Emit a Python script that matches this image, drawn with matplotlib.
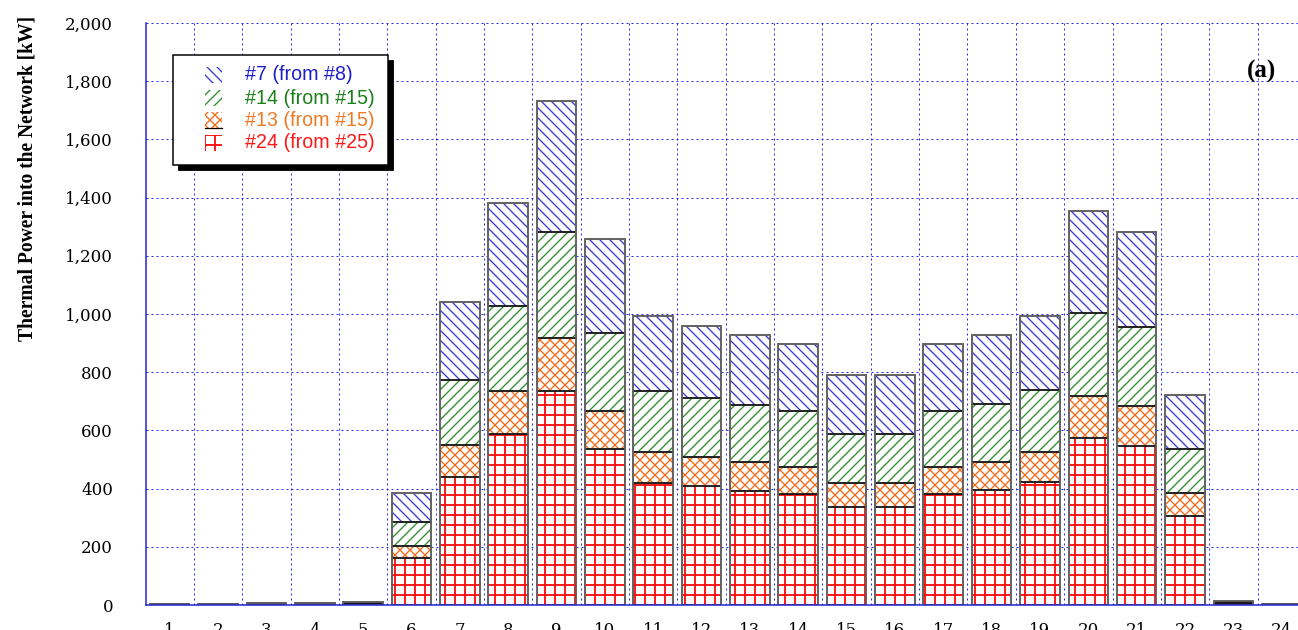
import matplotlib
matplotlib.use("Agg")
import matplotlib.pyplot as plt
from matplotlib.patches import Rectangle
import numpy as np

hours = list(range(1, 25))
red_24 = [1.3, 1.7, 3.0, 3.0, 4.2, 163, 440, 587, 734, 535, 420, 409, 393, 380, 336, 336, 380, 395, 422, 573, 545, 307, 6.0, 1.3]
orange_13 = [0.3, 0.4, 0.7, 0.7, 1.1, 41, 111, 148, 183, 133, 107, 101, 99, 95, 84, 84, 95, 97, 105, 144, 138, 77, 1.5, 0.3]
green_14 = [0.6, 0.9, 1.5, 1.5, 2.1, 80, 222, 292, 366, 266, 209, 200, 196, 192, 168, 168, 190, 198, 211, 286, 271, 152, 3.0, 0.6]
blue_7 = [0.8, 1.0, 1.8, 1.8, 2.6, 100, 267, 356, 450, 323, 258, 249, 239, 229, 203, 203, 231, 238, 255, 351, 329, 186, 3.5, 0.8]
series_labels = ["#7 (from #8)", "#14 (from #15)", "#13 (from #15)", "#24 (from #25)"]
y_ticks = [0, 200, 400, 600, 800, 1000, 1200, 1400, 1600, 1800, 2000]

DPI = 60
W, H = 1298, 630
plt.rcParams['hatch.linewidth'] = 1.7
fig = plt.figure(figsize=(W / DPI, H / DPI), dpi=DPI)
ax = fig.add_axes([145.5 / W, 25 / H, 1160.4 / W, 582 / H])

serif = ['DejaVu Serif']
serif_lab = ['Liberation Serif', 'DejaVu Serif']
sans = ['Liberation Sans', 'DejaVu Sans']

hatch_cols = {'red': '#ff0a0a', 'orange': '#f06a18', 'green': '#2f8f2f', 'blue': '#3a3ad2'}
stack = [(red_24, '+', hatch_cols['red'], 2.2),
         (orange_13, 'xx', hatch_cols['orange'], 1.6),
         (green_14, '//', hatch_cols['green'], 1.6),
         (blue_7, '\\\\', hatch_cols['blue'], 1.6)]

x = np.array(hours)
bw = 0.82
bottom = np.zeros(len(hours))
for vals, hatch, col, hlw in stack:
    v = np.array(vals, dtype=float)
    bars = ax.bar(x, v, bw, bottom=bottom, color='white', edgecolor=col, hatch=hatch,
                  linewidth=0, zorder=2)
    for b in bars:
        if hasattr(b, 'set_hatch_linewidth'):
            b.set_hatch_linewidth(hlw)
    ax.bar(x, v, bw, bottom=bottom, fill=False, edgecolor='#1a1a1a', linewidth=1.8, zorder=3)
    bottom += v
# outer gray outline of each stacked bar
ax.bar(x, bottom, bw, fill=False, edgecolor='#6a6a6a', linewidth=2.0, zorder=3.5)

ax.set_xlim(0.5, 24.5)
ax.set_ylim(0, 2000)
ax.set_yticks(y_ticks)
ax.set_yticklabels([f"{t:,}" for t in y_ticks], fontfamily=serif, fontsize=20)
ax.set_xticks(x)
ax.set_xticklabels([str(h) for h in hours], fontfamily=serif, fontsize=20)
ax.set_xticks(np.arange(1.5, 24.5, 1), minor=True)
ax.tick_params(axis='y', length=0, pad=39)
ax.tick_params(axis='x', which='major', length=0, pad=20)
ax.tick_params(axis='x', which='minor', length=0)

grid_kw = dict(color='#2a2aee', linestyle=(0, (2, 3)), linewidth=1.2)
ax.grid(False)
ax.yaxis.grid(True, which='major', **grid_kw)
ax.xaxis.grid(True, which='minor', **grid_kw)
ax.set_axisbelow(True)
for s in ['top', 'right']:
    ax.spines[s].set_visible(False)
for s in ['left', 'bottom']:
    ax.spines[s].set_color('#2020cc')
    ax.spines[s].set_linewidth(1.8)
    ax.spines[s].set_zorder(4)

fig.text(28 / W, 1 - 178 / H, "Thermal Power into the Network [kW]", rotation=90,
         ha='center', va='center', fontfamily=serif_lab, fontweight='bold', fontsize=23.5)
fig.text(1261 / W, 1 - 71 / H, "(a)", ha='center', va='center', fontfamily=serif_lab,
         fontweight='bold', fontsize=30)

# legend (figure pixel coordinates)
def px(xp, yp):
    return (xp / W, 1 - yp / H)

lx0, ly0, lx1, ly1 = 173, 55, 388, 165
sh = Rectangle(px(lx0 + 5, ly1 + 5), (lx1 - lx0) / W, (ly1 - ly0) / H, transform=fig.transFigure,
               facecolor='black', edgecolor='black', zorder=5)
fr = Rectangle(px(lx0, ly1), (lx1 - lx0) / W, (ly1 - ly0) / H, transform=fig.transFigure,
               facecolor='white', edgecolor='black', linewidth=1.8, zorder=6)
fig.patches.extend([sh, fr])
leg_items = [(series_labels[0], '\\\\', hatch_cols['blue'], '#1f1fc8', 1.6),
             (series_labels[1], '//', hatch_cols['green'], '#1a801a', 1.6),
             (series_labels[2], 'xx', hatch_cols['orange'], '#ef7a26', 1.6),
             (series_labels[3], '+', hatch_cols['red'], '#ff1818', 2.2)]
yc = [75, 98, 120, 143]
for (lab, hatch, hcol, tcol, hlw), y in zip(leg_items, yc):
    p = Rectangle(px(205, y + 8), 17 / W, 16 / H, transform=fig.transFigure, facecolor='white',
                  edgecolor=hcol, hatch=hatch, linewidth=0, zorder=7)
    if hasattr(p, 'set_hatch_linewidth'):
        p.set_hatch_linewidth(hlw)
    fig.patches.append(p)
    fig.text(245 / W, 1 - y / H, lab, color=tcol, fontfamily=sans, fontsize=23.5,
             ha='left', va='center', zorder=8)
fig.lines.append(plt.Line2D([205 / W, 222 / W], [1 - 128.5 / H, 1 - 128.5 / H],
                            transform=fig.transFigure, color='black', linewidth=1.5, zorder=8))

fig.savefig("out.png", dpi=DPI)
